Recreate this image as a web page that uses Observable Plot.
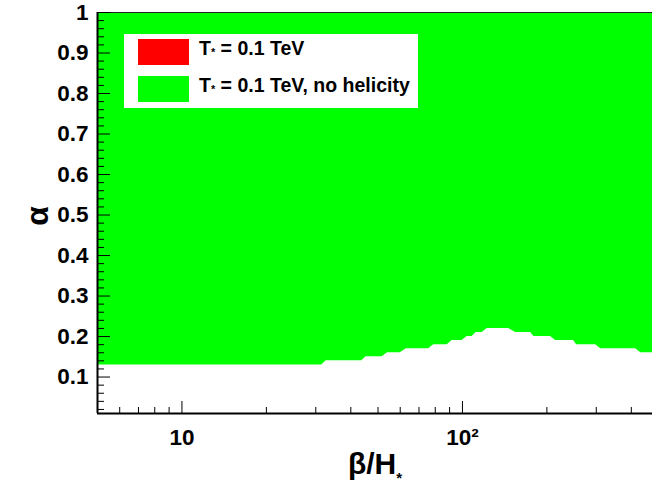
<!DOCTYPE html>
<html><head><meta charset="utf-8">
<script src="https://cdn.jsdelivr.net/npm/d3@7"></script>
<script src="https://cdn.jsdelivr.net/npm/@observablehq/plot@0.6"></script>
<style>
html,body{margin:0;padding:0;background:#fff;}
#wrap{position:relative;width:652px;height:494px;overflow:hidden;font-family:"Liberation Sans",Arial,sans-serif;font-weight:bold;color:#000;}
#wrap svg{display:block;}
.legend{position:absolute;left:124px;top:34px;width:294px;height:74px;background:#fff;}
.sw{position:absolute;left:14px;width:51px;height:26px;}
.lt{position:absolute;left:75px;font-size:19.5px;line-height:19px;white-space:nowrap;}
.st{font-size:11px;position:relative;top:1px;}
.xt{position:absolute;left:375px;top:484px;transform:translate(-50%,-100%);font-size:30px;line-height:30px;white-space:nowrap;}
.xt .st2{font-size:15px;position:relative;top:9px;}
.yt{position:absolute;left:37px;top:216px;transform:translate(-50%,-50%) rotate(-90deg);font-size:32px;line-height:32px;}
</style>
</head><body>
<div id="wrap"></div>
<script>
// boundary of the "no helicity" region: alpha threshold vs beta/H*
const beta  = [5, 31.5, 32.7, 43.8, 45.3, 51.7, 54.1, 60, 63.1, 75.8, 79, 88.2, 91.9, 99.7, 103.9, 108.3, 111.9, 117.6, 122.5, 146.3, 154.6, 175, 179.8, 206.2, 214.8, 249.1, 255.4, 298.5, 311.1, 414.9, 432.2, 500];
const alpha = [0.13, 0.13, 0.14, 0.14, 0.15, 0.15, 0.16, 0.16, 0.17, 0.17, 0.18, 0.18, 0.19, 0.19, 0.20, 0.20, 0.21, 0.21, 0.22, 0.22, 0.21, 0.21, 0.20, 0.20, 0.19, 0.19, 0.18, 0.18, 0.17, 0.17, 0.16, 0.16];
const alphaTop = 1;

const seriesNames  = ["T* = 0.1 TeV", "T* = 0.1 TeV, no helicity"];
const seriesColors = ["#ff0000", "#00ff00"];

const xMajor = [10, 100];
const xMajorLabels = ["10", "10²"];
const xMinor = [6, 7, 8, 9, 20, 30, 40, 50, 60, 70, 80, 90, 200, 300, 400];
const yMajor = [0.1, 0.2, 0.3, 0.4, 0.5, 0.6, 0.7, 0.8, 0.9, 1];
const yMajorLabels = ["0.1", "0.2", "0.3", "0.4", "0.5", "0.6", "0.7", "0.8", "0.9", "1"];
const yMinor = [0.02,0.04,0.06,0.08,0.12,0.14,0.16,0.18,0.22,0.24,0.26,0.28,0.32,0.34,0.36,0.38,0.42,0.44,0.46,0.48,0.52,0.54,0.56,0.58,0.62,0.64,0.66,0.68,0.72,0.74,0.76,0.78,0.82,0.84,0.86,0.88,0.92,0.94,0.96,0.98];

const xTitle = "β/H";
const yTitle = "α";

const region = beta.map((b, i) => ({beta: b, alpha: alpha[i], top: alphaTop}));

const plot = Plot.plot({
  width: 652, height: 494,
  marginLeft: 97, marginRight: -6, marginTop: 12, marginBottom: 81,
  style: {fontFamily: "'Liberation Sans', Arial, sans-serif", fontWeight: "bold", background: "transparent", color: "#000"},
  x: {type: "log", domain: [5, 500], axis: null, label: null},
  y: {domain: [0.01, 1], axis: null, label: null},
  marks: [
    Plot.areaY(region, {x: "beta", y1: "alpha", y2: "top", fill: seriesColors[1], curve: "linear"}),
    Plot.frame({stroke: "#222", strokeWidth: 1}),
    Plot.ruleX([5], {stroke: "#000", strokeWidth: 2}),
    Plot.ruleY([0.01], {stroke: "#000", strokeWidth: 2}),
    Plot.axisY(yMajor, {label: null, tickSize: -13, tickPadding: 22, fontSize: 22.5, stroke: "#000", fill: "#000",
      tickFormat: d => yMajorLabels[yMajor.indexOf(d)]}),
    Plot.axisY(yMinor, {label: null, tickSize: -7, text: null, stroke: "#000"}),
    Plot.axisX(xMajor, {label: null, tickSize: -12, tickPadding: 28, fontSize: 22.5, stroke: "#000", fill: "#000",
      tickFormat: d => xMajorLabels[xMajor.indexOf(d)]}),
    Plot.axisX(xMinor, {label: null, tickSize: -6, text: null, stroke: "#000"})
  ]
});

const wrap = document.getElementById("wrap");
wrap.appendChild(plot);

// legend
const leg = document.createElement("div");
leg.className = "legend";
const swTops = [5, 42];
const txtTops = [5, 42];
seriesNames.forEach((name, i) => {
  const sw = document.createElement("div");
  sw.className = "sw";
  sw.style.top = swTops[i] + "px";
  sw.style.background = seriesColors[i];
  leg.appendChild(sw);
  const t = document.createElement("div");
  t.className = "lt";
  t.style.top = txtTops[i] + "px";
  const parts = name.split("*");
  t.appendChild(document.createTextNode(parts[0]));
  const s = document.createElement("span"); s.className = "st"; s.textContent = "*";
  t.appendChild(s);
  t.appendChild(document.createTextNode(parts[1]));
  leg.appendChild(t);
});
wrap.appendChild(leg);

// axis titles
const xt = document.createElement("div");
xt.className = "xt";
xt.appendChild(document.createTextNode(xTitle));
const xs = document.createElement("span"); xs.className = "st2"; xs.textContent = "*";
xt.appendChild(xs);
wrap.appendChild(xt);

const yt = document.createElement("div");
yt.className = "yt";
yt.textContent = yTitle;
wrap.appendChild(yt);
</script>
</body></html>
